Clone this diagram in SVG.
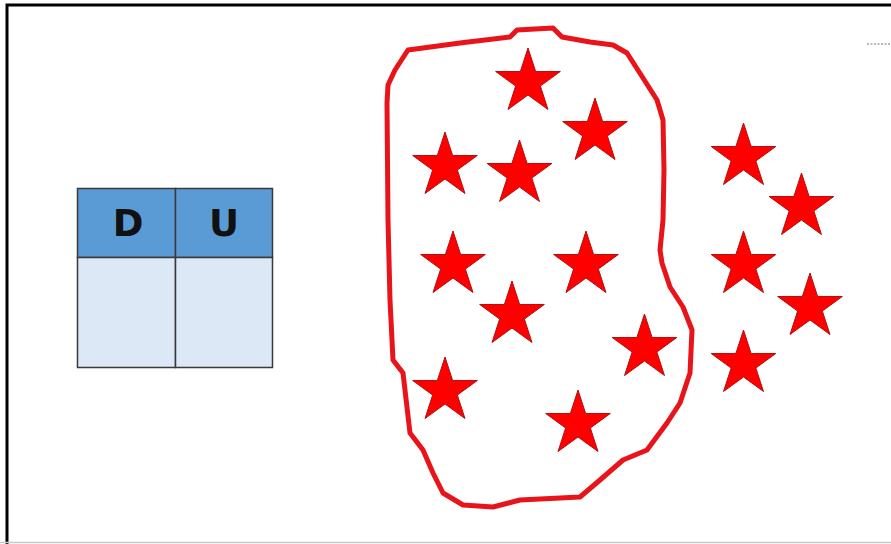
<svg xmlns="http://www.w3.org/2000/svg" width="891" height="544" viewBox="0 0 891 544">
<style>
.frame{stroke:#000;stroke-width:3;fill:none}
.cell-h{fill:#5b9bd5;stroke:#3a3a3a;stroke-width:1.5}
.cell-b{fill:#dce8f5;stroke:#3a3a3a;stroke-width:1.5}
.lbl{font-family:"Comic Sans MS","DejaVu Sans",sans-serif;font-weight:bold;font-size:37px;fill:#111;text-anchor:middle}
.blob{fill:none;stroke:#e8141a;stroke-width:5;stroke-linejoin:round}
.star{fill:#ff0000;stroke:#b01010;stroke-width:1}
</style>
<defs>
<polygon id="star" class="star" points="0,-34 7.64,-10.52 32.34,-10.51 12.36,4.02 19.98,27.51 0,13 -19.98,27.51 -12.36,4.02 -32.34,-10.51 -7.64,-10.52"/>
</defs>
<rect width="891" height="544" fill="#fff"/>
<g id="frame">
<path class="frame" d="M7,544 V5 H891"/>
<line x1="0" y1="542.5" x2="891" y2="542.5" stroke="#c8c8c8" stroke-width="1.5"/>
<line x1="867" y1="44" x2="891" y2="44" stroke="#777" stroke-width="1" stroke-dasharray="2,1.5"/>
</g>
<g id="table">
<rect class="cell-h" x="77.5" y="188.5" width="98" height="69"/>
<rect class="cell-h" x="175.5" y="188.5" width="97" height="69"/>
<rect class="cell-b" x="77.5" y="257.5" width="98" height="110"/>
<rect class="cell-b" x="175.5" y="257.5" width="97" height="110"/>
<text class="lbl" x="128" y="236">D</text>
<text class="lbl" x="224" y="236">U</text>
</g>
<g id="blob">
<path class="blob" d="M388,85 L395,70 L408,50 L460,43 L510,37 L517,30 L553,28 L562,37 L590,42 L613,45 L627,53 L643,78 L657,100 L663,120 L664,170 L663,220 L660,250 L662,263 L670,287 L683,307 L692,330 L690,373 L680,403 L667,423 L647,450 L623,460 L600,480 L580,497 L520,500 L493,507 L463,505 L443,493 L433,473 L423,450 L410,433 L403,373 L393,360 L390,300 L388,220 L387,103 Z"/>
</g>
<g id="stars-inside">
<use href="#star" x="528" y="82"/>
<use href="#star" x="595" y="132"/>
<use href="#star" x="445" y="166"/>
<use href="#star" x="519.5" y="174"/>
<use href="#star" x="453" y="265"/>
<use href="#star" x="586" y="265"/>
<use href="#star" x="512" y="315"/>
<use href="#star" x="644.5" y="348"/>
<use href="#star" x="445" y="391"/>
<use href="#star" x="578" y="424"/>
</g>
<g id="stars-outside">
<use href="#star" x="743.5" y="157"/>
<use href="#star" x="801.5" y="207"/>
<use href="#star" x="743.5" y="265"/>
<use href="#star" x="810" y="307"/>
<use href="#star" x="743.5" y="364"/>
</g>
</svg>
